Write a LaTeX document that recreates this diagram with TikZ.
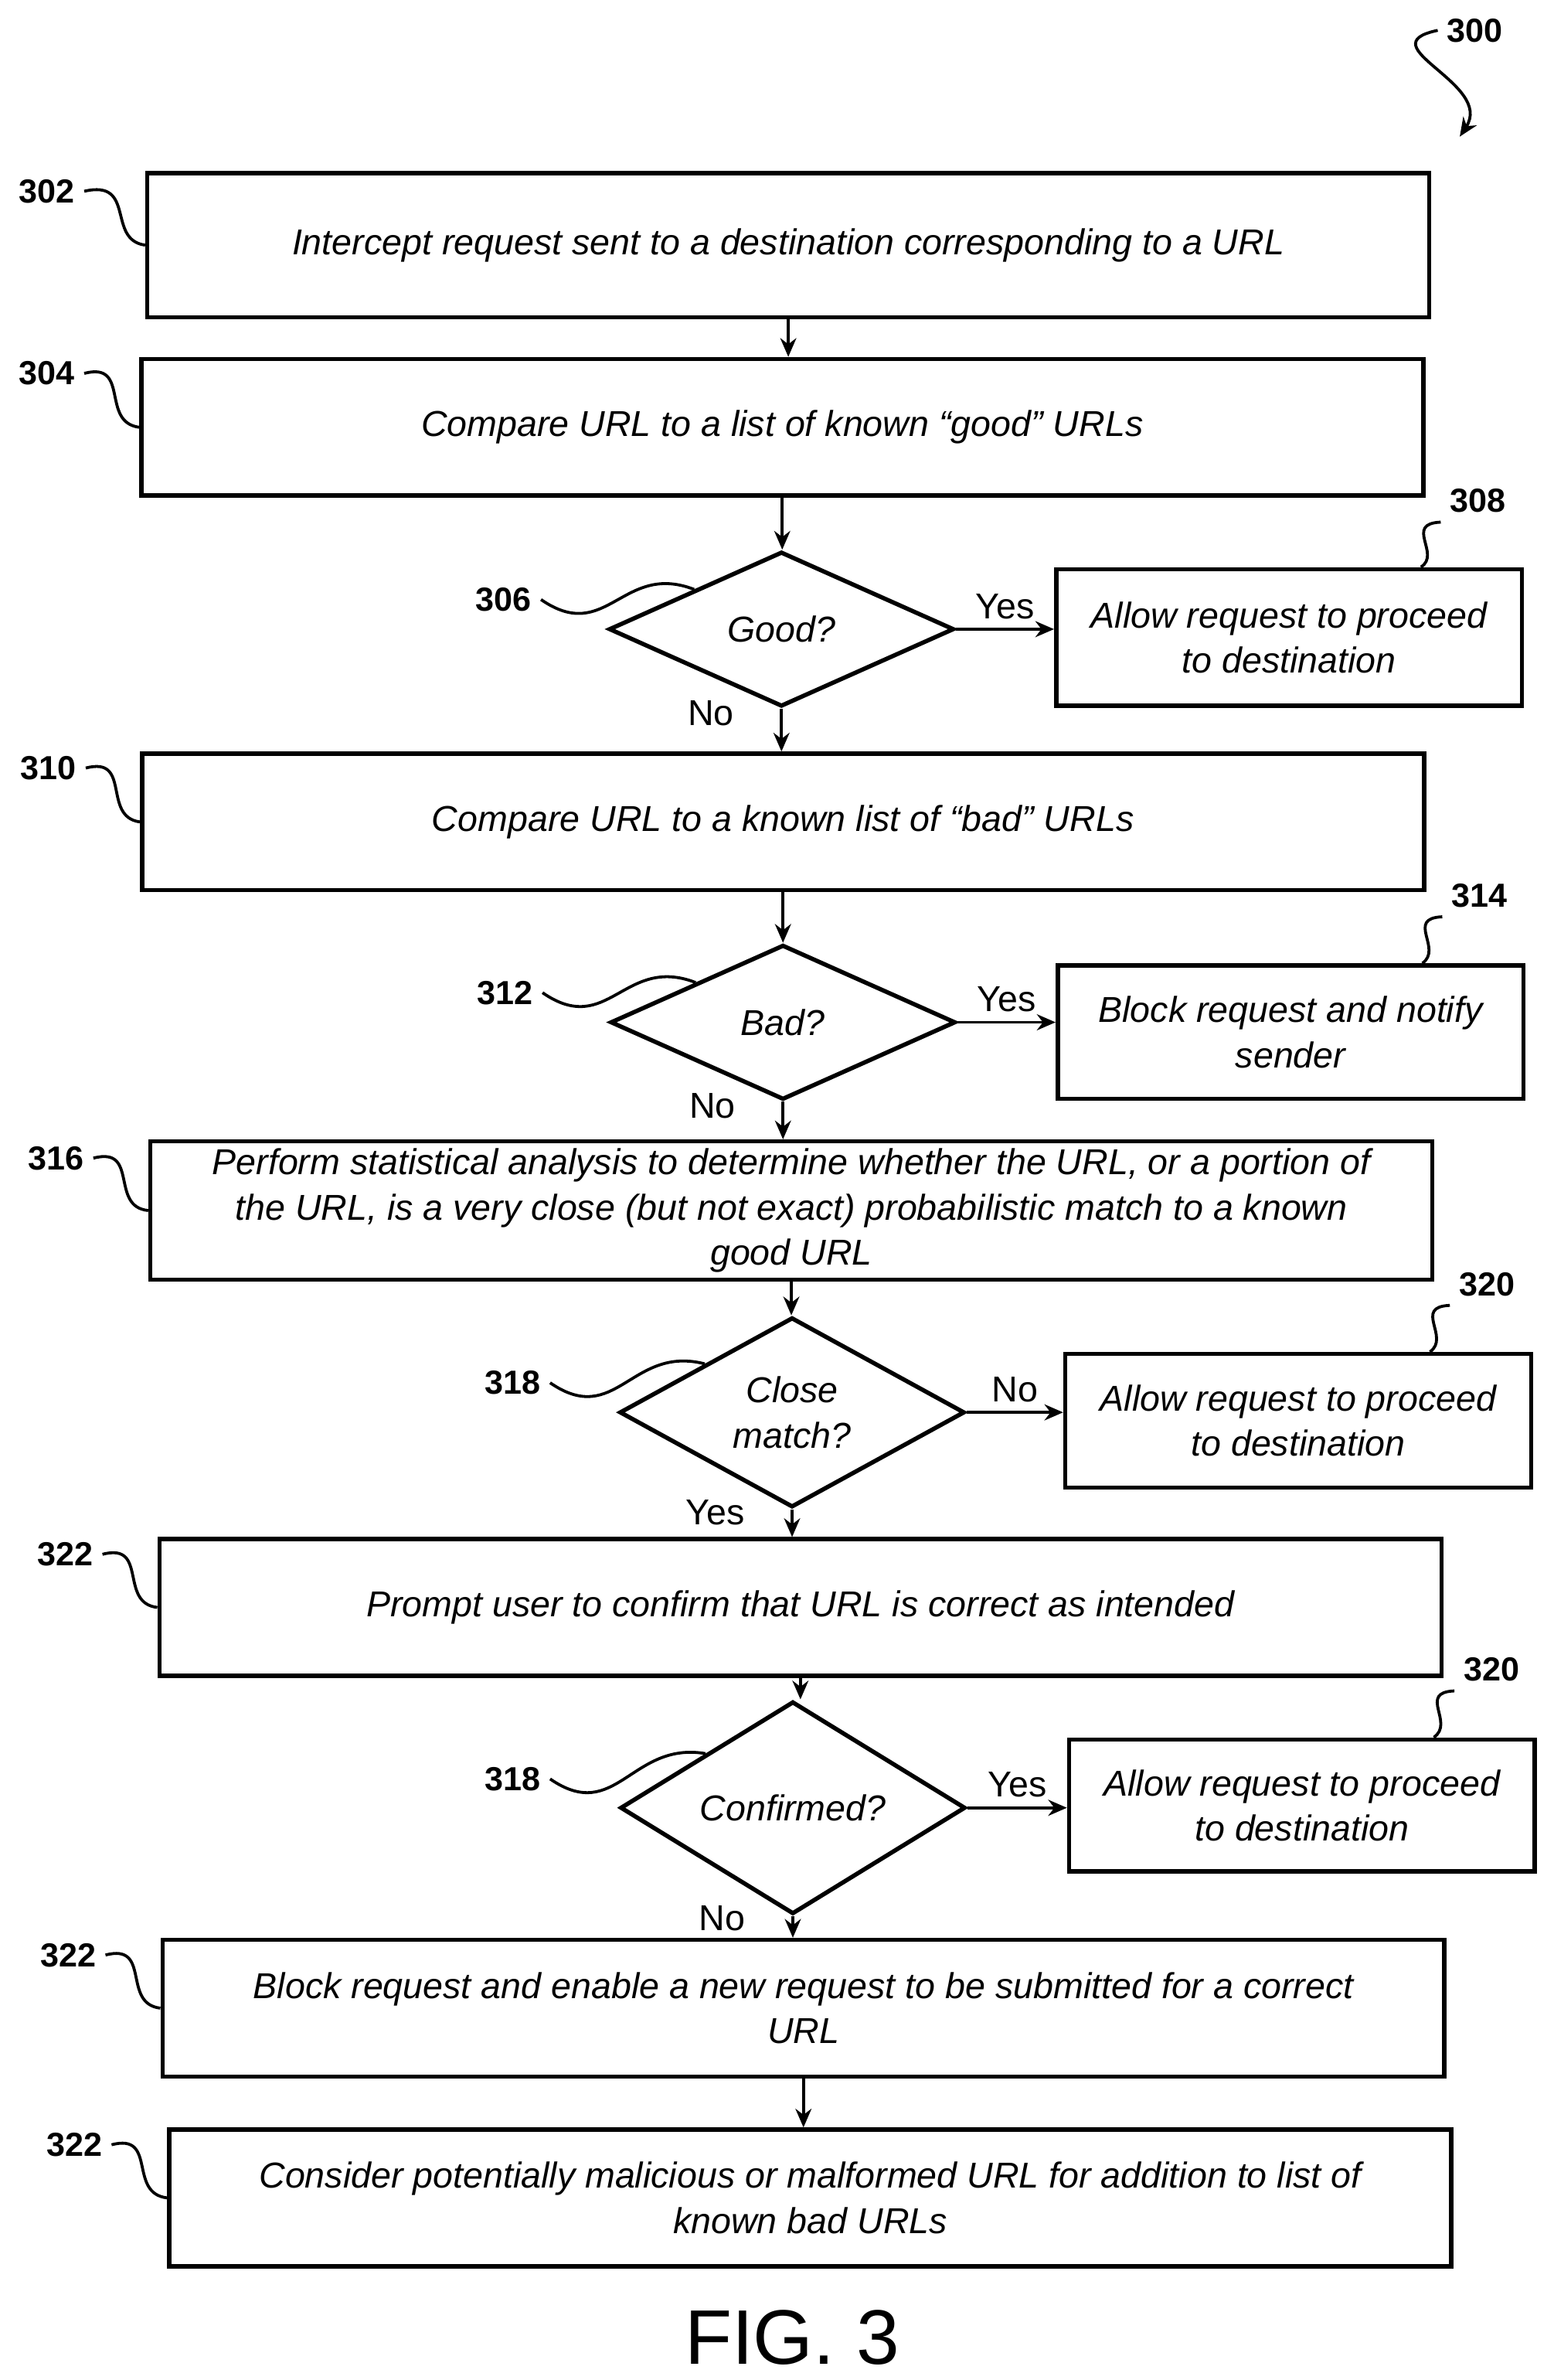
\documentclass[tikz,border=0pt]{standalone}
\usepackage{fontspec}
\setmainfont{Liberation Sans}
\usetikzlibrary{arrows.meta,shapes.geometric,calc}
\tikzset{
  box/.style={draw,line width=1.6pt,inner sep=2pt,align=center,font=\fontsize{13.5}{17}\selectfont\itshape},
  wide/.style={box,minimum width=16.9cm,minimum height=1.8cm},
  side/.style={box,minimum width=6.14cm,minimum height=1.76cm},
  dec/.style={draw,diamond,line width=1.6pt,inner sep=0pt,align=center,minimum width=4.55cm,minimum height=2.04cm,font=\fontsize{13.5}{17}\selectfont\itshape},
  lbl/.style={font=\fontsize{12.5}{15}\selectfont\bfseries},
  yn/.style={font=\fontsize{13.5}{16}\selectfont},
  flow/.style={-{Stealth[length=7pt,width=6pt]},line width=1.1pt},
  lead/.style={line width=1.1pt}
}
\begin{document}
\begin{tikzpicture}[x=0.02cm,y=-0.02cm]
            \useasboundingbox (0,0) rectangle (1024,1568);
            % boxes and decisions
            \node[wide,minimum height=1.9cm] (b302) at (519.5,161.5) {Intercept request sent to a destination corresponding to a URL};
            \node[wide] (b304) at (515.5,281.5) {Compare URL to a list of known ``good'' URLs};
            \node[dec] (d306) at (515,414.5) {Good?};
            \node[side,minimum height=1.8cm] (b308) at (849.5,420) {Allow request to proceed\\to destination};
            \node[wide] (b310) at (516,541.5) {Compare URL to a known list of ``bad'' URLs};
            \node[dec] (d312) at (516,673.5) {Bad?};
            \node[side] (b314) at (850.5,680) {Block request and notify\\sender};
            \node[wide,minimum height=1.82cm] (b316) at (521.5,797.5) {Perform statistical analysis to determine whether the URL, or a portion of\\the URL, is a very close (but not exact) probabilistic match to a known\\good URL};
            \node[dec] (d318) at (522,930.5) {Close\\match?};
            \node[side] (b320) at (855.5,936) {Allow request to proceed\\to destination};
            \node[wide] (b322) at (527.5,1059) {Prompt user to confirm that URL is correct as intended};
            \node[dec] (d324) at (522.5,1191) {Confirmed?};
            \node[side,minimum height=1.74cm] (b326) at (858,1189.5) {Allow request to proceed\\to destination};
            \node[wide] (b328) at (529.5,1323) {Block request and enable a new request to be submitted for a correct\\URL};
            \node[wide] (b330) at (534,1448) {Consider potentially malicious or malformed URL for addition to list of\\known bad URLs};
            % connectors
            \draw[flow] (b302.south) -- (b302.south |- b304.north);
            \draw[flow] (b304.south) -- (b304.south |- d306.north);
            \draw[flow] (d306.east) -- (d306.east -| b308.west) node[yn,midway,above] {Yes};
            \draw[flow] (d306.south) -- (d306.south |- b310.north) node[yn,pos=0.1,left=14pt] {No};
            \draw[flow] (b310.south) -- (b310.south |- d312.north);
            \draw[flow] (d312.east) -- (d312.east -| b314.west) node[yn,midway,above] {Yes};
            \draw[flow] (d312.south) -- (d312.south |- b316.north) node[yn,pos=0.1,left=14pt] {No};
            \draw[flow] (b316.south) -- (b316.south |- d318.north);
            \draw[flow] (d318.east) -- (d318.east -| b320.west) node[yn,midway,above] {No};
            \draw[flow] (d318.south) -- (d318.south |- b322.north) node[yn,pos=0.1,left=14pt] {Yes};
            \draw[flow] (b322.south) -- (b322.south |- d324.north);
            \draw[flow] (d324.east) -- (d324.east -| b326.west) node[yn,midway,above] {Yes};
            \draw[flow] (d324.south) -- (d324.south |- b328.north) node[yn,pos=0.1,left=14pt] {No};
            \draw[flow] (b328.south) -- (b328.south |- b330.north);
            % reference numerals
            \node[lbl] (l300) at (972,20) {300};
            \coordinate (c300) at (962,90);
            \draw[flow] (l300.west) .. controls (900,30) and (985,55) .. (c300);
            \node[lbl] (l302) at (31,126) {302};
            \draw[lead] (l302.east) .. controls (90,118) and (70,158) .. (b302.west);
            \node[lbl] (l304) at (31,246) {304};
            \draw[lead] (l304.east) .. controls (86,238) and (66,278) .. (b304.west);
            \node[lbl] (l310) at (32,506) {310};
            \draw[lead] (l310.east) .. controls (87,498) and (67,538) .. (b310.west);
            \node[lbl] (l316) at (37,763) {316};
            \draw[lead] (l316.east) .. controls (92,755) and (72,795) .. (b316.west);
            \node[lbl] (l322) at (43,1024) {322};
            \draw[lead] (l322.east) .. controls (98,1016) and (78,1056) .. (b322.west);
            \node[lbl] (l328) at (45,1288) {322};
            \draw[lead] (l328.east) .. controls (100,1280) and (80,1320) .. (b328.west);
            \node[lbl] (l330) at (49,1413) {322};
            \draw[lead] (l330.east) .. controls (104,1405) and (84,1445) .. (b330.west);
            \node[lbl] (l306) at (332,395) {306};
            \draw[lead] (l306.east) .. controls (400,425) and (410,370) .. ($(d306.west)!0.5!(d306.north)$);
            \node[lbl] (l312) at (333,654) {312};
            \draw[lead] (l312.east) .. controls (401,684) and (411,629) .. ($(d312.west)!0.5!(d312.north)$);
            \node[lbl] (l318) at (338,911) {318};
            \draw[lead] (l318.east) .. controls (406,941) and (416,886) .. ($(d318.west)!0.5!(d318.north)$);
            \node[lbl] (l324) at (338,1172) {318};
            \draw[lead] (l324.east) .. controls (406,1202) and (416,1147) .. ($(d324.west)!0.5!(d324.north)$);
            \node[lbl] (l308) at (974,330) {308};
            \draw[lead] (l308.south west) .. controls (925,345) and (950,365) .. ($(b308.north east)+(-68,0)$);
            \node[lbl] (l314) at (975,590) {314};
            \draw[lead] (l314.south west) .. controls (926,605) and (951,625) .. ($(b314.north east)+(-68,0)$);
            \node[lbl] (l320) at (980,846) {320};
            \draw[lead] (l320.south west) .. controls (931,861) and (956,881) .. ($(b320.north east)+(-68,0)$);
            \node[lbl] (l326) at (983,1100) {320};
            \draw[lead] (l326.south west) .. controls (934,1115) and (959,1135) .. ($(b326.north east)+(-68,0)$);
            \node[font=\fontsize{29}{34}\selectfont] (fig) at (522,1540) {FIG. 3};
        \end{tikzpicture}
\end{document}
